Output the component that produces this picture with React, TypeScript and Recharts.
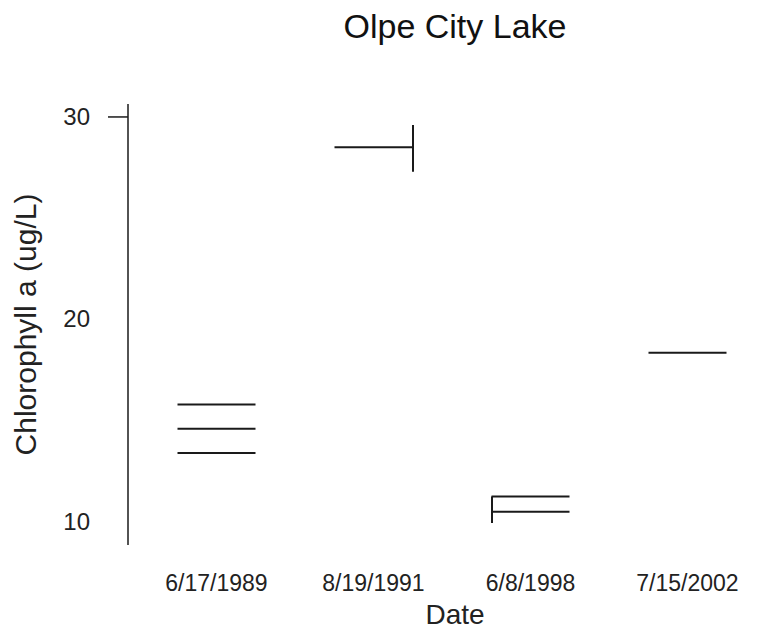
import { ComposedChart, Bar, Scatter, XAxis, YAxis } from "recharts";

const dates = ["6/17/1989", "8/19/1991", "6/8/1998", "7/15/2002"];

// horizontal line levels per sampling date
const lineDates = ["6/17/1989", "6/17/1989", "6/17/1989", "8/19/1991", "6/8/1998", "6/8/1998", "7/15/2002"];
const lineValues = [15.8, 14.6, 13.4, 28.5, 11.25, 10.5, 18.35];

// vertical edges [low, high], drawn on one side of the box
const edgeLow = [null, 27.3, 9.95, null];
const edgeHigh = [null, 29.6, 11.25, null];
const edgeSide = ["", "right", "left", ""];

const yTicks = [10, 20, 30];

const rows = dates.map((d, i) => ({
  date: d,
  edge: edgeLow[i] == null ? null : [edgeLow[i], edgeHigh[i]],
  side: edgeSide[i],
}));

const lines = lineDates.map((d, i) => ({ date: d, value: lineValues[i] }));

const INK = "#1a1a1a";
const FONT = "'Liberation Sans', Arial, sans-serif";
const HALF = 39;

function HLine(props: any) {
  const { cx, cy } = props;
  if (cx == null || cy == null) return null;
  return <line x1={cx - HALF} x2={cx + HALF} y1={cy} y2={cy} stroke={INK} strokeWidth={2} />;
}

function Edge(props: any) {
  const { x, y, width, height, payload } = props;
  if (!payload || !payload.side || height == null) return null;
  const ex = payload.side === "right" ? x + width : x;
  return <line x1={ex} x2={ex} y1={y} y2={y + height} stroke={INK} strokeWidth={2} />;
}

function YTick(props: any) {
  const { x, y, payload } = props;
  const top = payload.value === 30;
  return (
    <g>
      {top && <line x1={x - 12} x2={x + 8} y1={y} y2={y} stroke={INK} strokeWidth={1.5} />}
      <text x={x - 30} y={y} dy={8} textAnchor="end" fontSize={24} fontFamily={FONT} fill="#222">
        {payload.value}
      </text>
    </g>
  );
}

function XTick(props: any) {
  const { x, y, payload } = props;
  return (
    <text x={x} y={y + 38} textAnchor="middle" fontSize={23} fontFamily={FONT} fill="#222">
      {payload.value}
    </text>
  );
}

export default function App() {
  return (
    <div style={{ position: "absolute", left: 0, top: 0, width: 770, height: 632, background: "#fff" }}>
      <div
        style={{
          position: "absolute",
          left: 140,
          width: 630,
          top: 9,
          lineHeight: 1,
          textAlign: "center",
          fontFamily: FONT,
          fontSize: 34,
          color: "#111",
        }}
      >
        Olpe City Lake
      </div>
      <div
        style={{
          position: "absolute",
          left: 140,
          width: 630,
          top: 601,
          lineHeight: 1,
          textAlign: "center",
          fontFamily: FONT,
          fontSize: 28,
          color: "#222",
        }}
      >
        Date
      </div>
      <ComposedChart
        width={770}
        height={632}
        data={rows}
        margin={{ top: 104, right: 4, bottom: 0, left: 0 }}
        barCategoryGap="25%"
      >
        <XAxis
          dataKey="date"
          type="category"
          allowDuplicatedCategory={false}
          axisLine={false}
          tickLine={false}
          height={87}
          padding={{ left: 10, right: 0 }}
          tick={<XTick />}
          interval={0}
        />
        <YAxis
          type="number"
          domain={[8.86, 30.64]}
          ticks={yTicks}
          width={128}
          axisLine={{ stroke: INK, strokeWidth: 1.5 }}
          tickLine={false}
          tick={<YTick />}
          label={{
            value: "Chlorophyll a (ug/L)",
            angle: -90,
            position: "insideLeft",
            offset: 25,
            style: { fontSize: 30, fontFamily: FONT, fill: "#222", textAnchor: "middle" },
          }}
        />
        <Bar dataKey="edge" barSize={78} shape={<Edge />} isAnimationActive={false} />
        <Scatter data={lines} dataKey="value" shape={<HLine />} isAnimationActive={false} />
      </ComposedChart>
    </div>
  );
}
